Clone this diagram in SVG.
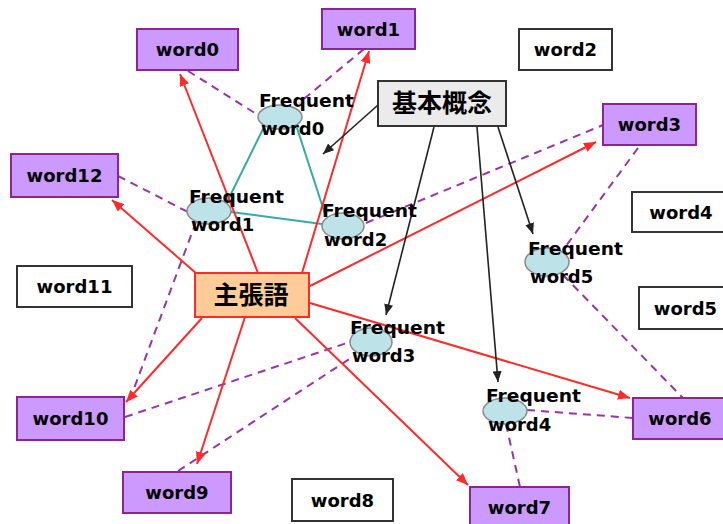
<svg xmlns="http://www.w3.org/2000/svg" width="723" height="524" viewBox="0 0 723 524">
<defs>
<style>
.pb{fill:#cc99ff;stroke:#8e248e;stroke-width:2}
.wb{fill:#ffffff;stroke:#333333;stroke-width:2}
.lbl{font-family:"DejaVu Sans","Liberation Sans",sans-serif;font-weight:bold;font-size:18px;fill:#000;text-anchor:middle}
.fl{font-family:"DejaVu Sans","Liberation Sans",sans-serif;font-weight:bold;font-size:18px;fill:#000}
.cjk{font-family:"Noto Sans CJK JP","Noto Sans CJK SC",sans-serif;font-weight:bold;font-size:25px;fill:#000;text-anchor:middle}
.el{fill:#bde2e8;stroke:#8a8a8a;stroke-width:1.5}
.red{stroke:#ff2a2a;stroke-width:2;fill:none;marker-end:url(#ar)}
.blk{stroke:#222;stroke-width:1.6;fill:none;marker-end:url(#ab)}
.dash{stroke:#9933aa;stroke-width:2;fill:none;stroke-dasharray:8,6}
.teal{stroke:#33aaaa;stroke-width:2;fill:none}
</style>
<marker id="ar" viewBox="0 0 12 10" refX="12" refY="5" markerWidth="12" markerHeight="10" markerUnits="userSpaceOnUse" orient="auto"><path d="M0,0 L12,5 L0,10 z" fill="#ff2a2a"/></marker>
<marker id="ab" viewBox="0 0 12 10" refX="12" refY="5" markerWidth="11" markerHeight="9" markerUnits="userSpaceOnUse" orient="auto"><path d="M0,0 L12,5 L0,10 z" fill="#222"/></marker>
</defs>
<rect width="723" height="524" fill="#ffffff"/>
<g id="connectors">
<line class="teal" x1="264" y1="127" x2="227" y2="202"/>
<line class="teal" x1="297" y1="128" x2="325" y2="214"/>
<line class="teal" x1="231" y1="212" x2="322" y2="224"/>
<line class="dash" x1="188" y1="71" x2="258" y2="115"/>
<line class="dash" x1="364" y1="49" x2="299" y2="103"/>
<line class="dash" x1="118" y1="176" x2="188" y2="212"/>
<line class="dash" x1="196" y1="222" x2="129" y2="402"/>
<line class="dash" x1="125" y1="417" x2="350" y2="342"/>
<line class="dash" x1="178" y1="471" x2="354" y2="356"/>
<line class="dash" x1="366" y1="223" x2="603" y2="125"/>
<line class="dash" x1="638" y1="148" x2="563" y2="250"/>
<line class="dash" x1="563" y1="275" x2="683" y2="398"/>
<line class="dash" x1="527" y1="410" x2="633" y2="418"/>
<line class="dash" x1="506" y1="424" x2="520" y2="487"/>
<line class="red" x1="258" y1="273" x2="180" y2="74"/>
<line class="red" x1="302" y1="273" x2="369" y2="51"/>
<line class="red" x1="197" y1="274" x2="112" y2="200"/>
<line class="red" x1="310" y1="286" x2="596" y2="142"/>
<line class="red" x1="310" y1="303" x2="630" y2="398"/>
<line class="red" x1="295" y1="318" x2="468" y2="485"/>
<line class="red" x1="245" y1="317" x2="197" y2="464"/>
<line class="red" x1="202" y1="318" x2="126" y2="402"/>
<line class="blk" x1="378" y1="105" x2="323" y2="154"/>
<line class="blk" x1="434" y1="127" x2="386" y2="315"/>
<line class="blk" x1="477" y1="127" x2="498" y2="382"/>
<line class="blk" x1="498" y1="127" x2="533" y2="234"/>
</g>
<g id="word0"><rect class="pb" x="137" y="29" width="101" height="41"/><text class="lbl" x="187.5" y="56">word0</text></g>
<g id="word1"><rect class="pb" x="322" y="9" width="93" height="40"/><text class="lbl" x="368.5" y="35.5">word1</text></g>
<g id="word2"><rect class="wb" x="519" y="29" width="93" height="41"/><text class="lbl" x="565.5" y="56">word2</text></g>
<g id="word3"><rect class="pb" x="603" y="104" width="93" height="41"/><text class="lbl" x="649.5" y="131">word3</text></g>
<g id="word4"><rect class="wb" x="632" y="192" width="98" height="40"/><text class="lbl" x="681" y="218.5">word4</text></g>
<g id="word5"><rect class="wb" x="639" y="287" width="93" height="42"/><text class="lbl" x="685.5" y="314.5">word5</text></g>
<g id="word6"><rect class="pb" x="633" y="398" width="94" height="41"/><text class="lbl" x="680" y="425">word6</text></g>
<g id="word7"><rect class="pb" x="470" y="487" width="99" height="40"/><text class="lbl" x="519.5" y="513.5">word7</text></g>
<g id="word8"><rect class="wb" x="292" y="479" width="101" height="42"/><text class="lbl" x="342.5" y="506.5">word8</text></g>
<g id="word9"><rect class="pb" x="123" y="472" width="108" height="41"/><text class="lbl" x="177" y="499">word9</text></g>
<g id="word10"><rect class="pb" x="17" y="397" width="107" height="43"/><text class="lbl" x="70.5" y="425">word10</text></g>
<g id="word11"><rect class="wb" x="17" y="266" width="115" height="41"/><text class="lbl" x="74.5" y="293">word11</text></g>
<g id="word12"><rect class="pb" x="11" y="154" width="107" height="43"/><text class="lbl" x="64.5" y="182">word12</text></g>
<g id="shuchougo"><rect x="195" y="273" width="114" height="44" fill="#ffcc99" stroke="#ff2a2a" stroke-width="2"/><text class="cjk" x="251" y="304">主張語</text></g>
<g id="kihon"><rect x="378" y="81" width="128" height="45" fill="#ebebeb" stroke="#333" stroke-width="2"/><text class="cjk" x="442" y="112">基本概念</text></g>
<g id="fw0"><ellipse class="el" cx="280" cy="117" rx="22" ry="12"/><text class="fl" x="259" y="107" textLength="95" lengthAdjust="spacingAndGlyphs">Frequent</text><text class="fl" x="261" y="135">word0</text></g>
<g id="fw1"><ellipse class="el" cx="209" cy="211" rx="22" ry="13"/><text class="fl" x="189" y="203" textLength="95" lengthAdjust="spacingAndGlyphs">Frequent</text><text class="fl" x="191" y="231">word1</text></g>
<g id="fw2"><ellipse class="el" cx="343" cy="226" rx="21" ry="13"/><text class="fl" x="322" y="217" textLength="95" lengthAdjust="spacingAndGlyphs">Frequent</text><text class="fl" x="324" y="246">word2</text></g>
<g id="fw3"><ellipse class="el" cx="371" cy="342" rx="21" ry="14"/><text class="fl" x="350" y="334" textLength="95" lengthAdjust="spacingAndGlyphs">Frequent</text><text class="fl" x="352" y="362">word3</text></g>
<g id="fw4"><ellipse class="el" cx="505" cy="411" rx="22" ry="13"/><text class="fl" x="486" y="402" textLength="95" lengthAdjust="spacingAndGlyphs">Frequent</text><text class="fl" x="488" y="431">word4</text></g>
<g id="fw5"><ellipse class="el" cx="547" cy="262" rx="22" ry="14"/><text class="fl" x="528" y="255" textLength="95" lengthAdjust="spacingAndGlyphs">Frequent</text><text class="fl" x="530" y="283">word5</text></g>
</svg>
